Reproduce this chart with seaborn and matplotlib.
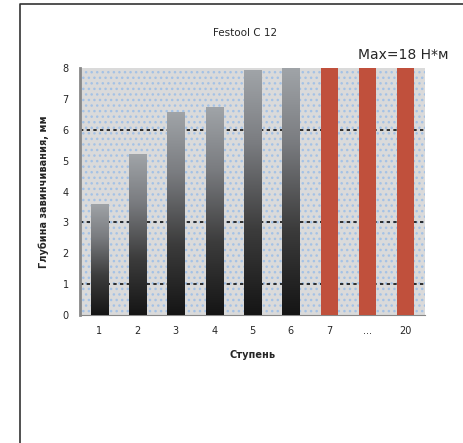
import numpy as np
import pandas as pd
import matplotlib
matplotlib.use("Agg")
import matplotlib.pyplot as plt
import seaborn as sns
from matplotlib.colors import LinearSegmentedColormap
from matplotlib.lines import Line2D
from matplotlib.patches import Rectangle

# ---- data ----
categories = ["1", "2", "3", "4", "5", "6", "7", "...", "20"]
depth = [3.6, 5.2, 6.57, 6.73, 7.93, 8.0, 8.0, 8.0, 8.0]
is_max = [False, False, False, False, False, False, True, True, True]
grid_values = [1, 3, 6]
y_ticks = [0, 1, 2, 3, 4, 5, 6, 7, 8]
title = "Festool C 12"
max_note = "Max=18 Н*м"
x_label = "Ступень"
y_label = "Глубина завинчивания, мм"

df = pd.DataFrame({"cat": categories, "depth": depth, "max": is_max})

sns.set_style("white")
plt.rcParams["font.family"] = ["DejaVu Sans"]

fig = plt.figure(figsize=(4.63, 4.43), dpi=100)
ax = fig.add_axes([80 / 463, 1 - 315 / 443, 345 / 463, 247 / 443])

palette = {c: ("#c0503c" if m else "#808080") for c, m in zip(categories, is_max)}
sns.barplot(data=df, x="cat", y="depth", hue="cat", palette=palette,
            order=categories, legend=False, width=0.45, saturation=1,
            linewidth=0, edgecolor="none", ax=ax, zorder=3)

# background with light dotted texture
ax.set_facecolor("#dadada")
ax.add_patch(Rectangle((0, 0), 1, 1, transform=ax.transAxes, facecolor="none",
                       edgecolor="#a4c2e6", hatch="...", lw=0, zorder=0))

# gradient fill for the gray bars
cmap = LinearSegmentedColormap.from_list(
    "g", [(0, "#151515"), (0.35, "#3c3c3c"), (0.7, "#7a7c80"), (1, "#a0a4a8")])
grad = np.linspace(0, 1, 256).reshape(-1, 1)
for patch, m in zip(ax.patches, is_max):
    patch.set_linewidth(0)
    patch.set_edgecolor("none")
    if m:
        continue
    x0, y0 = patch.get_x(), patch.get_y()
    w, h = patch.get_width(), patch.get_height()
    im = ax.imshow(grad, cmap=cmap, origin="lower", aspect="auto",
                   extent=(x0, x0 + w, y0, y0 + h), zorder=4)
    im.set_clip_path(patch)
    patch.set_facecolor("none")

for v in grid_values:
    ax.axhline(v, color="#111111", ls=(0, (2, 2)), lw=1.2, zorder=2)

ax.set_xlim(-0.5, len(categories) - 0.5)
ax.set_ylim(0, 8)
ax.set_yticks(y_ticks)
ax.set_yticklabels([str(t) for t in y_ticks], fontsize=7)
ax.set_xticks(range(len(categories)))
ax.set_xticklabels(categories, fontsize=7)
ax.tick_params(axis="x", length=0, pad=8)
ax.tick_params(axis="y", length=0, pad=8)
ax.set_xticks(np.arange(-0.5, len(categories), 1), minor=True)
ax.tick_params(axis="x", which="minor", length=3, color="#888888", direction="out")

for s in ["top", "right"]:
    ax.spines[s].set_visible(False)
ax.spines["left"].set_color("#888888")
ax.spines["left"].set_linewidth(2)
ax.spines["bottom"].set_color("#888888")
ax.spines["bottom"].set_linewidth(0.8)

ax.set_xlabel(x_label, fontsize=7, fontweight="bold", labelpad=10)
ax.set_ylabel(y_label, fontsize=7, fontweight="bold", labelpad=10)

fig.text(245 / 463, 1 - 33 / 443, title, fontsize=7.5, ha="center", va="center")
fig.text(403 / 463, 1 - 55 / 443, max_note, fontsize=10, ha="center", va="center")

# partial frame
fig.add_artist(Line2D([20 / 463, 20 / 463, 1.0], [0, 1 - 4 / 443, 1 - 4 / 443],
                      transform=fig.transFigure, color="#333333", lw=1.2))

fig.savefig("out.png", dpi=100, facecolor="white")
